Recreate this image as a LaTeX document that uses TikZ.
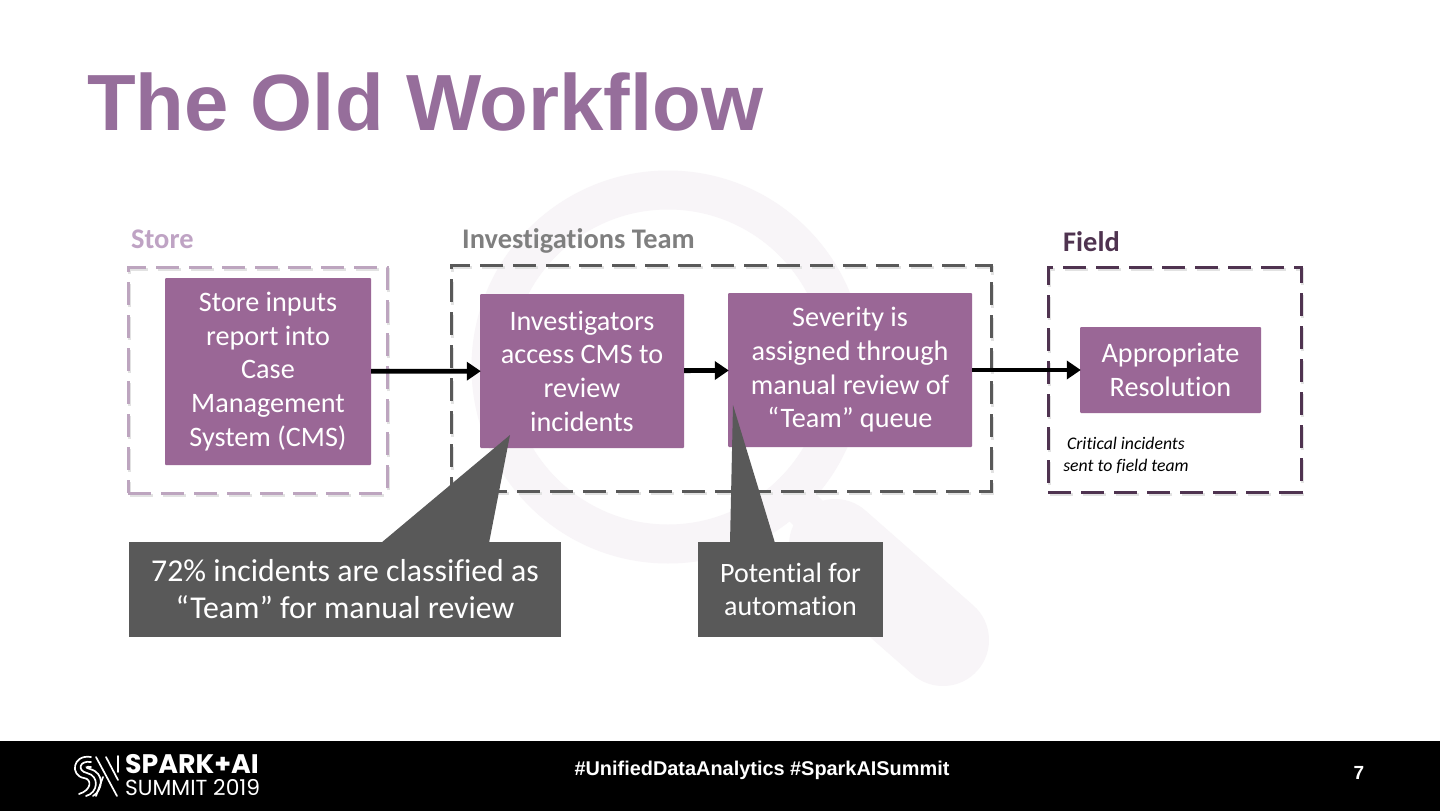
\documentclass[tikz,border=0pt]{standalone}
\usepackage{fontspec}
\setmainfont{Carlito}[Ligatures=NoCommon]
\newfontfamily\headfont{Liberation Sans}
\newfontfamily\logofont{Poppins}
\usetikzlibrary{shapes, positioning, arrows.meta, fit, backgrounds, calc}

\definecolor{plum}{HTML}{9A6796}
\definecolor{titleplum}{HTML}{966E9B}
\definecolor{slate}{HTML}{595959}
\definecolor{storeline}{HTML}{BDA5BF}
\definecolor{storetext}{HTML}{BFA3C4}
\definecolor{teamtext}{HTML}{7F7F7F}
\definecolor{fieldline}{HTML}{4F3350}
\definecolor{glass}{HTML}{F8F5F8}
\definecolor{lineshadow}{HTML}{E2E2E2}

\tikzset{
    stepbox/.style={fill=plum, text=white, rounded corners=1pt, align=center,
        font=\fontsize{28.2}{33.7}\selectfont, inner sep=0pt},
    zone/.style={draw=#1, line width=3pt, dash pattern=on 23pt off 10pt, inner sep=0pt},
    zoneshadow/.style={draw=lineshadow, line width=3pt, dash pattern=on 23pt off 10pt, inner sep=0pt},
    zonetitle/.style={font=\fontsize{28.4}{30}\selectfont\bfseries, anchor=west, inner sep=0pt},
    notebox/.style={fill=slate, text=white, align=center, inner sep=0pt},
    flow/.style={draw=black, line width=4.8pt, -{Triangle[length=14pt,width=18pt]}, shorten >=-1pt},
    logoline/.style={draw=white, line width=1.7pt, line cap=round}
}

\begin{document}
\begin{tikzpicture}[x=1pt, y=-1pt]
    \useasboundingbox (0,0) rectangle (1440,811);
    \fill[white] (0,0) rectangle (1440,811);

    % Magnifier behind the workflow
    \draw[glass, line width=39pt] (668,367) circle (177pt);
    \draw[glass, line width=38pt] (800,505) -- (840,545);
    \draw[glass, line width=92pt, line cap=round] (835,545) -- (943,640);

    % Title
    \node (title) [anchor=west, inner sep=0pt, text=titleplum, font=\headfont\fontsize{79.7}{84}\selectfont\bfseries] at (87,102) {The Old Workflow};

    % Dashed zones, shadow first
    \node (storeshadow) [zoneshadow, minimum width=259pt, minimum height=226pt] at (259,382) {};
    \node (teamshadow) [zoneshadow, minimum width=540pt, minimum height=226pt] at (722.5,380.5) {};
    \node (fieldshadow) [zoneshadow, minimum width=253pt, minimum height=225pt] at (1176,381.5) {};
    \node (storezone) [zone=storeline, minimum width=259pt, minimum height=226pt] at (257.5,380) {};
    \node (teamzone) [zone=slate, minimum width=540pt, minimum height=226pt] at (721,378) {};
    \node (fieldzone) [zone=fieldline, minimum width=253pt, minimum height=225pt] at (1174.5,379.5) {};

    \node (storetitle) [zonetitle, text=storetext] at (131,239) {Store};
    \node (teamtitle) [zonetitle, text=teamtext] at (462,240.5) {Investigations Team};
    \node (fieldtitle) [zonetitle, text=fieldline] at (1063,242) {Field};

    % Workflow steps
    \node (storebox) [stepbox, minimum width=206pt, minimum height=187pt] at (268,371.5) {Store inputs\\report into\\Case\\Management\\System (CMS)};
    \node (investbox) [stepbox, minimum width=204pt, minimum height=154pt] at (582,371) {Investigators\\access CMS to\\review\\incidents};
    \node (severitybox) [stepbox, minimum width=244pt, minimum height=154pt] at (850,370) {Severity is\\assigned through\\manual review of\\“Team” queue};
    \node (resolvebox) [stepbox, minimum width=181pt, minimum height=86pt] at (1170.5,370) {Appropriate\\Resolution};

    \draw[flow] (storebox) -- (investbox);
    \draw[flow] (investbox) -- (severitybox);
    \draw[flow] (severitybox) -- (resolvebox);

    \node (fieldnote) [align=center, inner sep=0pt, font=\fontsize{17.7}{22}\selectfont\itshape] at (1126,455) {Critical incidents\\sent to field team};

    % Callouts with their pointers
    \node (sharenote) [notebox, minimum width=432pt, minimum height=95pt, font=\fontsize{31.8}{37}\selectfont] at (345,589.5) {72\% incidents are classified as\\“Team” for manual review};
    \node (autonote) [notebox, minimum width=185pt, minimum height=95pt, font=\fontsize{28}{33.5}\selectfont] at (790.5,589.5) {Potential for\\automation};
    \coordinate (sharetip) at (510,435);
    \coordinate (autotip) at (733,405);
    \fill[slate] (381,543) -- (sharetip) -- (489,543) -- cycle;
    \fill[slate] (730,543) -- (autotip) -- (775,543) -- cycle;

    % Footer band
    \fill[black] (0,741) rectangle (1440,811);
    \node (tagline) [text=white, inner sep=0pt, font=\headfont\fontsize{19.9}{22}\selectfont\bfseries] at (762,770) {\#UnifiedDataAnalytics \#SparkAISummit};
    \node (pagenum) [text=white, inner sep=0pt, font=\headfont\fontsize{19}{22}\selectfont\bfseries] at (1359,773) {7};

    % Logo
    \node (logotop) [anchor=west, text=white, inner sep=0pt, font=\logofont\fontsize{26.8}{28}\selectfont\bfseries] at (125,764) {SPARK+AI};
    \node (logobottom) [anchor=west, text=white, inner sep=0pt, font=\logofont\fontsize{21.8}{24}\selectfont] at (125,788) {SUMMIT 2019};
    \draw[logoline] (91,757) .. controls (72,754) and (70,776) .. (84,778) .. controls (92,779) and (92,790) .. (79,794);
    \draw[logoline] (91,762) .. controls (79,760) and (77,771) .. (87,773) .. controls (100,776) and (98,793) .. (86,796);
    \draw[logoline] (91,767) .. controls (86,766) and (85,768) .. (90,769) .. controls (105,773) and (103,790) .. (93,796);
    \draw[logoline] (96,757) -- (117,796);
    \draw[logoline] (103,777) -- (96,796);
    \draw[logoline] (106,757) -- (118,780);
    \draw[logoline] (118,756) -- (118,772);
\end{tikzpicture}
\end{document}
